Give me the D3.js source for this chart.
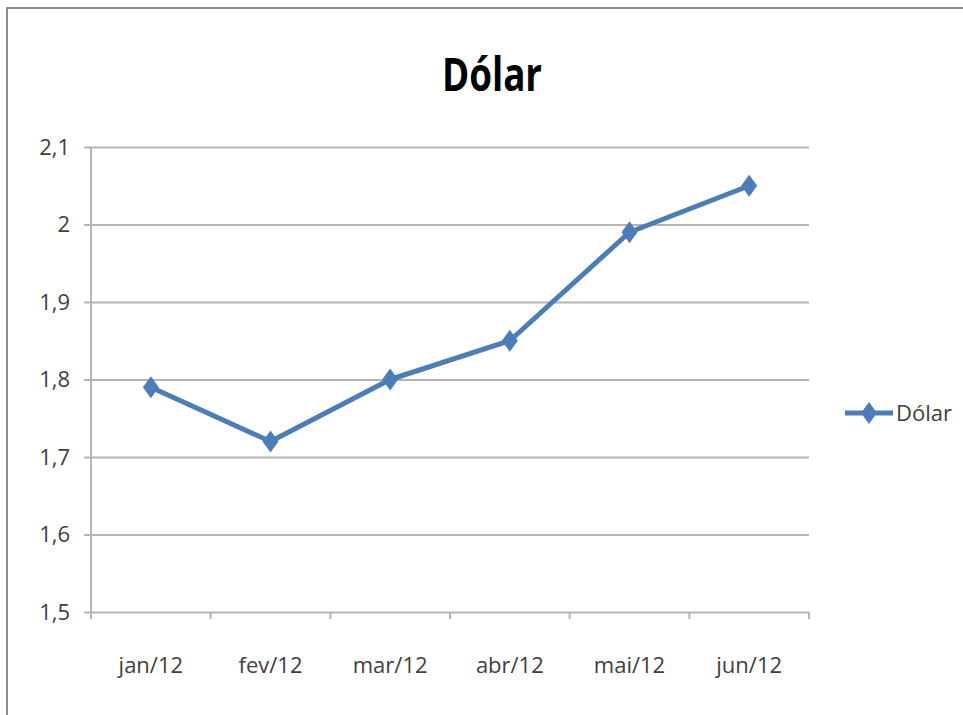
<!DOCTYPE html>
<html>
<head>
<meta charset="utf-8">
<script src="https://cdn.jsdelivr.net/npm/d3@7"></script>
<style>
  body { margin: 0; background: #fff; }
  text { font-family: "Open Sans", "Liberation Sans", sans-serif; }
</style>
</head>
<body>
<svg id="chart" width="963" height="715"></svg>
<script>

var months = [ 'jan/12', 'fev/12', 'mar/12', 'abr/12', 'mai/12', 'jun/12' ];
var dolar = [ 1.79, 1.72, 1.80, 1.85, 1.99, 2.05 ];
var yTicks = [ 1.5, 1.6, 1.7, 1.8, 1.9, 2.0, 2.1 ];
var seriesName = 'Dólar';

var svg = d3.select( '#chart' );
var padding = { top: 147, right: 154, bottom: 103, left: 91 };
var width = 963 - padding.left - padding.right;
var height = 715 - padding.top - padding.bottom;
var blue = '#4a7ebb';
var grid = '#b4b4b4';

// outer frame
svg.append( 'path' )
	.attr( 'd', 'M7,715V8H963' )
	.attr( 'fill', 'none' )
	.attr( 'stroke', '#8c8c8c' )
	.attr( 'stroke-width', 2 );

// title, squeezed to look like the narrow original
svg.append( 'text' )
	.attr( 'transform', 'translate(492,91) scale(0.8,1)' )
	.attr( 'text-anchor', 'middle' )
	.style( 'font-size', '46px' )
	.style( 'font-weight', 'bold' )
	.attr( 'fill', '#000' )
	.text( seriesName );

var x = d3.scaleBand().domain( months ).range( [ 0, width ] );
var y = d3.scaleLinear().domain( [ 1.5, 2.1 ] ).range( [ height, 0 ] );

var g = svg.append( 'g' )
	.attr( 'transform', 'translate(' + padding.left + ',' + padding.top + ')' );

var yAxis = d3.axisLeft( y )
	.tickValues( yTicks )
	.tickSize( -width )
	.tickPadding( 21 )
	.tickFormat( function ( d ) { return d3.format( '.1~f' )( d ).replace( '.', ',' ); } );

var yG = g.append( 'g' ).call( yAxis );
yG.select( '.domain' ).remove();
yG.selectAll( '.tick line' )
	.attr( 'x1', -7 )
	.attr( 'stroke', grid )
	.attr( 'stroke-width', 2 );
yG.selectAll( '.tick text' )
	.style( 'font-size', '22px' )
	.attr( 'fill', '#404040' );

// vertical axis line
g.append( 'line' )
	.attr( 'x1', 0 ).attr( 'x2', 0 )
	.attr( 'y1', 0 ).attr( 'y2', height + 7 )
	.attr( 'stroke', grid )
	.attr( 'stroke-width', 2 );

// category ticks at band edges
var edges = months.map( function ( m ) { return x( m ); } ).concat( [ width ] );
g.selectAll( 'line.xtick' )
	.data( edges )
	.enter()
	.append( 'line' )
	.classed( 'xtick', true )
	.attr( 'x1', function ( d ) { return d; } )
	.attr( 'x2', function ( d ) { return d; } )
	.attr( 'y1', height )
	.attr( 'y2', height + 7 )
	.attr( 'stroke', grid )
	.attr( 'stroke-width', 2 );

g.selectAll( 'text.xlabel' )
	.data( months )
	.enter()
	.append( 'text' )
	.classed( 'xlabel', true )
	.attr( 'x', function ( d ) { return x( d ) + x.bandwidth() / 2; } )
	.attr( 'y', height + 61 )
	.attr( 'text-anchor', 'middle' )
	.style( 'font-size', '22px' )
	.attr( 'fill', '#404040' )
	.text( function ( d ) { return d; } );

var line = d3.line()
	.x( function ( d, i ) { return x( months[i] ) + x.bandwidth() / 2; } )
	.y( function ( d ) { return y( d ); } );

g.append( 'path' )
	.datum( dolar )
	.attr( 'd', line )
	.attr( 'fill', 'none' )
	.attr( 'stroke', blue )
	.attr( 'stroke-width', 5 )
	.attr( 'stroke-linejoin', 'round' );

var diamond = 'M0,-11L8,0L0,11L-8,0Z';

g.selectAll( 'path.marker' )
	.data( dolar )
	.enter()
	.append( 'path' )
	.classed( 'marker', true )
	.attr( 'd', diamond )
	.attr( 'transform', function ( d, i ) {
		return 'translate(' + ( x( months[i] ) + x.bandwidth() / 2 ) + ',' + y( d ) + ')';
	} )
	.attr( 'fill', blue );

// legend
var legend = svg.append( 'g' ).attr( 'transform', 'translate(845,413)' );
legend.append( 'line' )
	.attr( 'x1', 0 ).attr( 'x2', 48 )
	.attr( 'stroke', blue )
	.attr( 'stroke-width', 5 );
legend.append( 'path' )
	.attr( 'd', diamond )
	.attr( 'transform', 'translate(24,0)' )
	.attr( 'fill', blue );
legend.append( 'text' )
	.attr( 'x', 51 )
	.attr( 'y', 8 )
	.style( 'font-size', '22px' )
	.attr( 'fill', '#404040' )
	.text( seriesName );

</script>
</body>
</html>
